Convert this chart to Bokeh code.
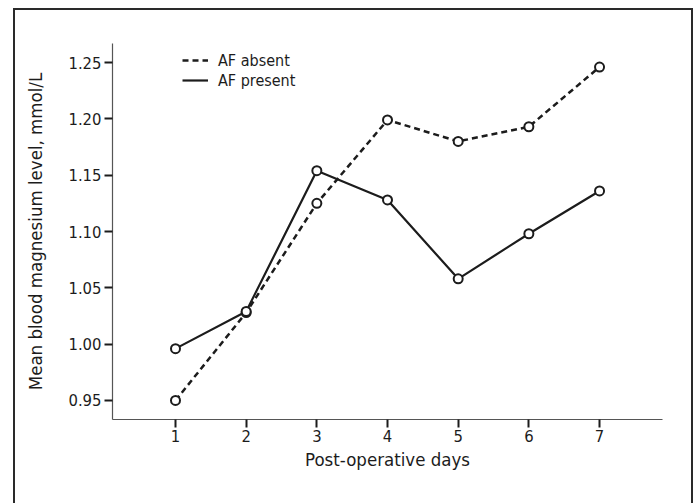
from bokeh.plotting import figure
from bokeh.models import Range1d, FixedTicker, Legend, LegendItem
from bokeh.embed import file_html
from bokeh.resources import INLINE

days = [1, 2, 3, 4, 5, 6, 7]
af_absent = [0.950, 1.028, 1.125, 1.199, 1.180, 1.193, 1.246]
af_present = [0.996, 1.029, 1.154, 1.128, 1.058, 1.098, 1.136]
y_ticks = [0.95, 1.00, 1.05, 1.10, 1.15, 1.20, 1.25]
series_labels = ["AF absent", "AF present"]
x_title = "Post-operative days"
y_title = "Mean blood magnesium level, mmol/L"

FONT = "DejaVu Sans Condensed"
INK = "#1c1c1c"

p = figure(width=676, height=493, output_backend="svg", toolbar_location=None,
           x_range=Range1d(0.1085, 7.891), y_range=Range1d(0.9331, 1.2669),
           min_border_left=97, min_border_right=29, min_border_top=33, min_border_bottom=84)
p.margin = (10, 0, 0, 15)
p.styles = {"outline": "2px solid #2a2a2a"}
p.outline_line_color = None
p.grid.visible = False

for ax in (p.xaxis[0], p.yaxis[0]):
    ax.axis_line_color = "#555555"
    ax.axis_line_width = 1.2
    ax.major_tick_line_color = INK
    ax.major_tick_line_width = 2
    ax.major_tick_out = 8
    ax.major_tick_in = 0
    ax.minor_tick_line_color = None
    ax.major_label_text_font = FONT
    ax.major_label_text_font_size = "16.5px"
    ax.major_label_text_color = INK
    ax.axis_label_text_font = FONT
    ax.axis_label_text_font_size = "18.5px"
    ax.axis_label_text_font_style = "normal"
    ax.axis_label_text_color = INK

p.xaxis.ticker = FixedTicker(ticks=days)
p.yaxis.ticker = FixedTicker(ticks=y_ticks)
p.yaxis.major_label_overrides = {v: f"{v:.2f}" for v in y_ticks}
p.xaxis.axis_label = x_title
p.yaxis.axis_label = y_title
p.xaxis.major_label_standoff = 2
p.xaxis.axis_label_standoff = 4
p.yaxis.major_label_standoff = 3
p.yaxis.axis_label_standoff = 19

l1 = p.line(days, af_absent, line_color=INK, line_width=2.5, line_dash="6 4")
l2 = p.line(days, af_present, line_color=INK, line_width=2.2)
p.scatter(days, af_absent, size=9, marker="circle", fill_color="white", line_color=INK, line_width=2)
p.scatter(days, af_present, size=9, marker="circle", fill_color="white", line_color=INK, line_width=2)

common = dict(background_fill_alpha=0, border_line_color=None, padding=0, margin=0,
              spacing=0, glyph_width=26, glyph_height=22, label_height=22, label_standoff=10,
              label_text_font=FONT, label_text_font_size="16px", label_text_color=INK)
leg1 = Legend(items=[LegendItem(label=series_labels[0], renderers=[l1])],
              location=(70, 348), **common)
leg2 = Legend(items=[LegendItem(label=series_labels[1], renderers=[l2])],
              location=(70, 328), **common)
p.add_layout(leg1)
p.add_layout(leg2)

open("out.html", "w").write(file_html(p, INLINE))
